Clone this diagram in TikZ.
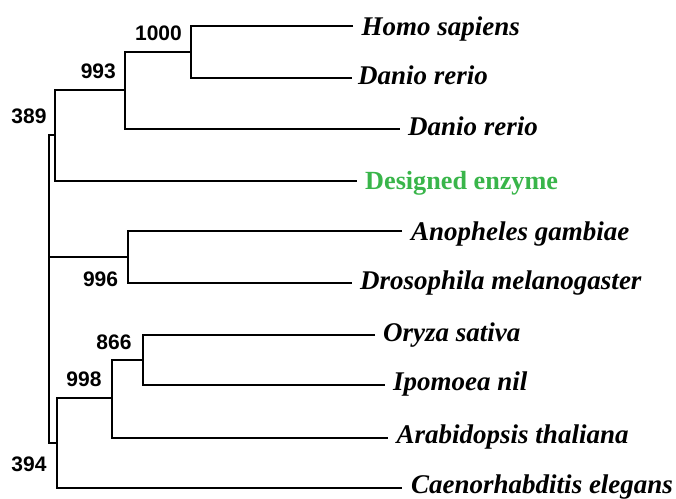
\documentclass[tikz,border=0pt]{standalone}
\usepackage{fontspec}
\setmainfont{Liberation Serif}
\newfontfamily\numfont{Liberation Sans}
\definecolor{enzgreen}{RGB}{57,181,74}
\begin{document}
\begin{tikzpicture}[x=1pt,y=-1pt,
  branch/.style={line width=2pt, line join=miter},
  sp/.style={anchor=base west, inner sep=0pt, font=\fontsize{27}{30}\selectfont\bfseries\itshape},
  bs/.style={anchor=east, inner sep=0pt, font=\fontsize{21}{24}\selectfont\numfont\bfseries}]
\useasboundingbox (0,0) rectangle (676,498);

% internal node coordinates
\coordinate (C) at (191,52);
\coordinate (B) at (125,90);
\coordinate (A) at (55,135);
\coordinate (root) at (49,289);
\coordinate (D) at (128,257);
\coordinate (G) at (143,360);
\coordinate (F) at (112,398);
\coordinate (E) at (57,443);

% leaf end coordinates
\coordinate (homoE) at (353,26);
\coordinate (danioaE) at (352,78);
\coordinate (daniobE) at (400,129);
\coordinate (desE) at (357,181);
\coordinate (anoE) at (402,231);
\coordinate (droE) at (352,283);
\coordinate (oryE) at (375,335);
\coordinate (ipoE) at (385,385);
\coordinate (araE) at (388,438);
\coordinate (caeE) at (402,488);

% species labels
\node[sp] (homo) at (361.5,35) {Homo sapiens};
\node[sp] (danioa) at (358,84.5) {Danio rerio};
\node[sp] (daniob) at (408,135.5) {Danio rerio};
\node[sp, font=\fontsize{26.2}{30}\selectfont\bfseries, text=enzgreen] (des) at (365,189) {Designed enzyme};
\node[sp] (ano) at (411,240) {Anopheles gambiae};
\node[sp] (dro) at (360,289) {Drosophila melanogaster};
\node[sp] (ory) at (383,341) {Oryza sativa};
\node[sp] (ipo) at (393,390.5) {Ipomoea nil};
\node[sp] (ara) at (396.5,443.5) {Arabidopsis thaliana};
\node[sp] (cae) at (411,493) {Caenorhabditis elegans};

% bootstrap values
\node[bs] (b1000) at (182,33.2) {1000};
\node[bs] (b993) at (116,71) {993};
\node[bs] (b389) at (46.7,116) {389};
\node[bs] (b996) at (118.3,279) {996};
\node[bs] (b866) at (131.7,342) {866};
\node[bs] (b998) at (101.7,379.7) {998};
\node[bs] (b394) at (46.7,464.5) {394};

% branches
\draw[branch] (homoE) -| (C) |- (danioaE);
\draw[branch] (C) -| (B) |- (daniobE);
\draw[branch] (B) -| (A) |- (desE);
\draw[branch] (A) -| (root) |- (E);
\draw[branch] (root |- D) -- (D);
\draw[branch] (anoE) -| (D) |- (droE);
\draw[branch] (F) -| (E) |- (caeE);
\draw[branch] (G) -| (F) |- (araE);
\draw[branch] (oryE) -| (G) |- (ipoE);
\end{tikzpicture}
\end{document}
